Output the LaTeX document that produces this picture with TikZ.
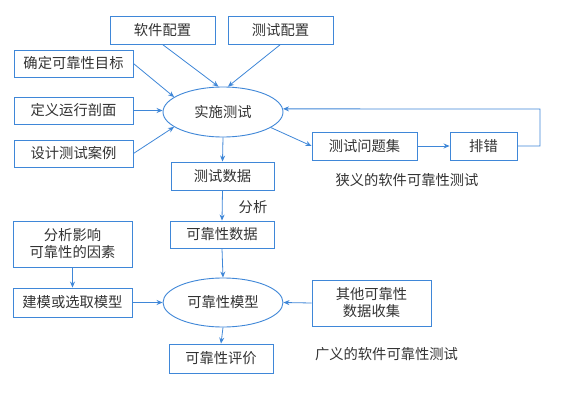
\documentclass[tikz,border=0pt]{standalone}
\usepackage{fontspec}
\setmainfont{Noto Sans CJK SC}
\usetikzlibrary{shapes.geometric,arrows.meta}
\definecolor{bl}{HTML}{3F87D8}
\definecolor{tx}{HTML}{333333}
\tikzset{
  box/.style={draw=bl,line width=0.9pt,rectangle,inner sep=0pt,text=tx,font=\fontsize{14.3}{17}\selectfont,align=center},
  ell/.style={draw=bl,line width=0.9pt,ellipse,inner sep=0pt,text=tx,font=\fontsize{14.3}{17}\selectfont,minimum width=120pt,minimum height=50pt},
  lbl/.style={text=tx,font=\fontsize{14.3}{17}\selectfont,inner sep=0pt},
  arr/.style={draw=bl,line width=0.8pt,-{Stealth[length=6pt,width=5pt]}}
}
\begin{document}
\begin{tikzpicture}[x=1pt,y=-1pt]
\useasboundingbox (0,0) rectangle (565,420);
\fill[white] (0,0) rectangle (565,420);
\node[box,minimum width=105pt,minimum height=28pt] (rj) at (162.5,30) {软件配置};
\node[box,minimum width=105pt,minimum height=28pt] (cs) at (280.5,30) {测试配置};
\node[box,minimum width=119pt,minimum height=27pt] (qd) at (73.5,63.5) {确定可靠性目标};
\node[box,minimum width=119pt,minimum height=27pt] (dy) at (73.5,110.5) {定义运行剖面};
\node[box,minimum width=119pt,minimum height=27pt] (sj) at (73.5,153.5) {设计测试案例};
\node[ell] (ss) at (223,112) {实施测试};
\node[box,minimum width=103pt,minimum height=28pt] (sjd) at (222.5,176) {测试数据};
\node[box,minimum width=105pt,minimum height=28pt] (wt) at (364.5,146) {测试问题集};
\node[box,minimum width=67pt,minimum height=28pt] (pc) at (483.5,146) {排错};
\node[lbl] (xy) at (407,180) {狭义的软件可靠性测试};
\node[lbl] (fx) at (253,207) {分析};
\node[box,minimum width=104pt,minimum height=27pt] (kd) at (222,234.5) {可靠性数据};
\node[box,minimum width=119pt,minimum height=46pt] (fxy) at (72.5,244) {分析影响\\可靠性的因素};
\node[box,minimum width=119pt,minimum height=29pt] (jm) at (72.5,302.5) {建模或选取模型};
\node[ell,minimum height=49pt] (mx) at (223,302.5) {可靠性模型};
\node[box,minimum width=119pt,minimum height=46pt] (qt) at (371.5,303) {其他可靠性\\数据收集};
\node[box,minimum width=104pt,minimum height=29pt] (pj) at (221,358.5) {可靠性评价};
\node[lbl] (gy) at (386.5,354) {广义的软件可靠性测试};
\coordinate (fb) at (540,109);
\draw[arr] (rj.south) -- (ss.100);
\draw[arr] (cs.south) -- (ss.79);
\draw[arr] (qd.east) -- (ss.163);
\draw[arr] (dy.east) -- (dy.east -| ss.west);
\draw[arr] (sj.east) -- (ss.197);
\draw[arr] (ss.south) -- (sjd.north);
\draw[arr] (ss.-18) -- (wt.west);
\draw[arr] (wt.east) -- (pc.west);
\draw[arr] (pc.east) -| (fb) -- (ss.3);
\draw[arr] (sjd.south) -- (kd.north);
\draw[arr] (kd.south) -- (mx.north);
\draw[arr] (fxy.south) -- (jm.north);
\draw[arr] (jm.east) -- (mx.west);
\draw[arr] (qt.west) -- (mx.east);
\draw[arr] (mx.south) -- (pj.north);
\end{tikzpicture}
\end{document}
